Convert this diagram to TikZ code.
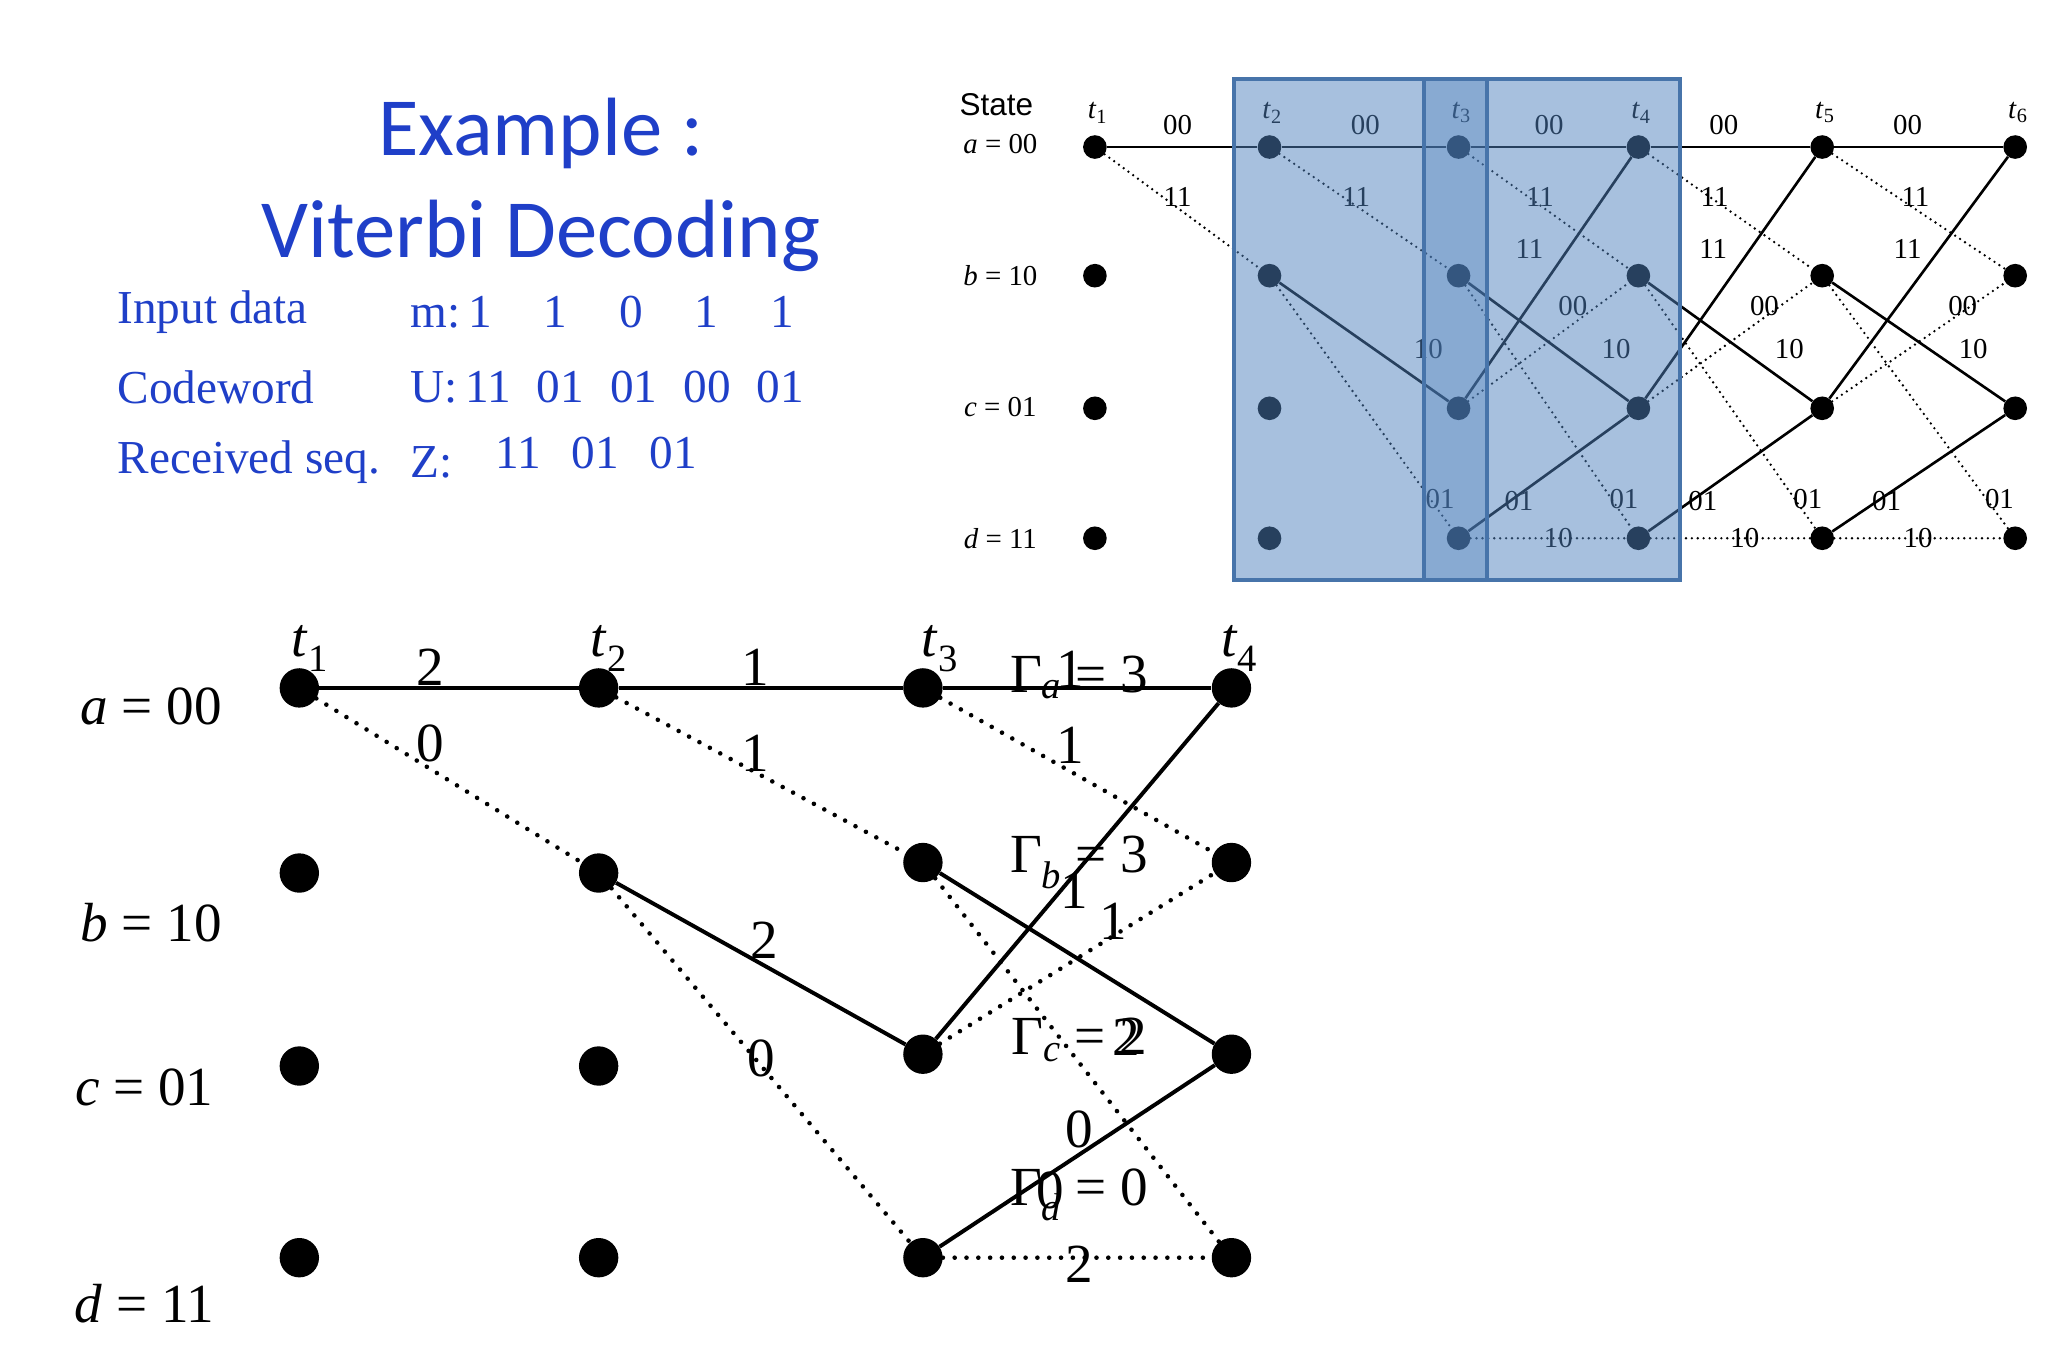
\documentclass[tikz,border=0pt]{standalone}
\usepackage{fontspec}
\setmainfont{Liberation Serif}
\newfontfamily\calib{Carlito}
\newfontfamily\dsans{Liberation Sans}
\newcommand{\sbi}[1]{\textsubscript{\itshape #1}}
\begin{document}
\begin{tikzpicture}[x=1pt,y=-1pt,
  dotB/.style={circle,fill=black,inner sep=0pt,minimum size=30pt},
  dotT/.style={circle,fill=black,inner sep=0pt,minimum size=18pt},
  solB/.style={line width=3pt},
  dotlB/.style={line width=3.5pt,line cap=round,dash pattern=on 0pt off 9pt},
  solT/.style={line width=2pt},
  dotlT/.style={line width=2pt,line cap=round,dash pattern=on 0pt off 4.5pt},
  lbB/.style={font=\fontsize{42}{46}\selectfont},
  lbT/.style={font=\fontsize{22}{24}\selectfont},
  bluetxt/.style={font=\fontsize{36}{40}\selectfont,anchor=west}]
\useasboundingbox (0,0) rectangle (1560,1040);
% ---------- title ----------
\definecolor{ttl}{HTML}{1F3FC8}
\node[text=ttl,font=\calib\fontsize{63}{66}\selectfont] (t1l) at (412,102) {Example :};
\node[text=ttl,font=\calib\fontsize{63}{66}\selectfont] (t2l) at (412,180) {Viterbi Decoding};
\node[bluetxt,text=ttl] (r1a) at (86,238) {Input data};
\node[bluetxt,text=ttl] (r1b) at (309,238) {m:\,1\hspace{1.1em}1\hspace{1.1em}0\hspace{1.1em}1\hspace{1.1em}1};
\node[bluetxt,text=ttl] (r2a) at (86,295) {Codeword};
\node[bluetxt,text=ttl] (r2b) at (309,295) {U:\,11\hspace{0.55em}01\hspace{0.55em}01\hspace{0.55em}00\hspace{0.55em}01};
\node[bluetxt,text=ttl] (r3a) at (86,352) {Received seq.};
\node[bluetxt,text=ttl] (r3b) at (309,352) {Z:};
\node[bluetxt,text=ttl] (r3c) at (374,345) {11\hspace{0.65em}01\hspace{0.65em}01};
% ---------- top-right trellis ----------
\foreach \n/\x in {1/834,2/967,3/1111,4/1248,5/1388,6/1535}{
  \node[dotT] (Ta\n) at (\x,112) {};
  \node[dotT] (Tb\n) at (\x,210) {};
  \node[dotT] (Tc\n) at (\x,311) {};
  \node[dotT] (Td\n) at (\x,410) {};
  \node[lbT] (Tt\n) at (\x+2,86) {\textit{t}\textsubscript{\n}};
}
\node[font=\dsans\fontsize{24}{26}\selectfont] (Tst) at (759,80) {State};
\node[lbT] (Tsa) at (762,110) {\textit{a} = 00};
\node[lbT] (Tsb) at (762,210) {\textit{b} = 10};
\node[lbT] (Tsc) at (762,310) {\textit{c} = 01};
\node[lbT] (Tsd) at (762,410) {\textit{d} = 11};
\draw[solT] (Ta1)--(Ta2); \draw[dotlT] (Ta1)--(Tb2);
\draw[solT] (Ta2)--(Ta3); \draw[dotlT] (Ta2)--(Tb3);
\draw[solT] (Tb2)--(Tc3); \draw[dotlT] (Tb2)--(Td3);
\foreach \i/\j in {3/4,4/5,5/6}{
  \draw[solT] (Ta\i)--(Ta\j); \draw[dotlT] (Ta\i)--(Tb\j);
  \draw[solT] (Tb\i)--(Tc\j); \draw[dotlT] (Tb\i)--(Td\j);
  \draw[solT] (Tc\i)--(Ta\j); \draw[dotlT] (Tc\i)--(Tb\j);
  \draw[solT] (Td\i)--(Tc\j); \draw[dotlT] (Td\i)--(Td\j);
}
\foreach \x in {897,1040,1180,1313,1453}{\node[lbT] at (\x,95) {00};}
\foreach \x in {897,1033,1173,1306,1459}{\node[lbT] at (\x,150) {11};}
\foreach \x in {1165,1305,1453}{\node[lbT] at (\x,190) {11};}
\foreach \x in {1198,1344,1495}{\node[lbT] at (\x,233) {00};}
\foreach \x in {1088,1231,1363,1503}{\node[lbT] at (\x,266) {10};}
\foreach \x in {1097,1237,1377,1523}{\node[lbT] at (\x,380) {01};}
\foreach \x in {1157,1297,1437}{\node[lbT] at (\x,382) {01};}
\foreach \x in {1187,1329,1461}{\node[lbT] at (\x,410) {10};}
% overlay
\definecolor{ovl}{HTML}{4F81BD}
\fill[ovl,opacity=0.5] (940,60) rectangle (1280,442);
\fill[ovl,opacity=0.35] (1085,60) rectangle (1133,442);
\draw[ovl!90!black,line width=3pt] (940,60) rectangle (1280,442);
\draw[ovl!90!black,line width=3pt] (1085,60) -- (1085,442) (1133,60) -- (1133,442);
% ---------- bottom trellis ----------
\foreach \n/\x/\yb/\yc in {1/228/665/812,2/456/665/812,3/703/657/803,4/938/657/803}{
  \node[dotB] (a\n) at (\x,524) {};
  \node[dotB] (b\n) at (\x,\yb) {};
  \node[dotB] (c\n) at (\x,\yc) {};
  \node[dotB] (d\n) at (\x,958) {};
}
\node[lbB] (tt1) at (236,494) {\textit{t}\textsubscript{1}};
\node[lbB] (tt2) at (464,494) {\textit{t}\textsubscript{2}};
\node[lbB] (tt3) at (716,494) {\textit{t}\textsubscript{3}};
\node[lbB] (tt4) at (944,494) {\textit{t}\textsubscript{4}};
\node[lbB] (sa) at (115,538) {\textit{a} = 00};
\node[lbB] (sb) at (115,703) {\textit{b} = 10};
\node[lbB] (sc) at (110,828) {\textit{c} = 01};
\node[lbB] (sd) at (110,993) {\textit{d} = 11};
\draw[solB] (a1)--(a2); \draw[dotlB] (a1)--(b2);
\draw[solB] (a2)--(a3); \draw[dotlB] (a2)--(b3);
\draw[solB] (b2)--(c3); \draw[dotlB] (b2)--(d3);
\draw[solB] (a3)--(a4); \draw[dotlB] (a3)--(b4);
\draw[solB] (b3)--(c4); \draw[dotlB] (b3)--(d4);
\draw[solB] (c3)--(a4); \draw[dotlB] (c3)--(b4);
\draw[solB] (d3)--(c4); \draw[dotlB] (d3)--(d4);
\node[lbB] at (328,508) {2};
\node[lbB] at (328,566) {0};
\node[lbB] at (575,508) {1};
\node[lbB] at (575,574) {1};
\node[lbB] at (582,716) {2};
\node[lbB] at (580,806) {0};
\node[lbB] at (815,510) {1};
\node[lbB] at (815,568) {1};
\node[lbB] at (818,678) {1};
\node[lbB] at (848,702) {1};
\node[lbB] at (858,790) {2};
\node[lbB] at (822,860) {0};
\node[lbB] at (800,907) {0};
\node[lbB] at (822,963) {2};
\node[lbB] at (822,516) {Γ\sbi{a} = 3};
\node[lbB] at (822,657) {Γ\sbi{b} = 3};
\node[lbB] at (822,792) {Γ\sbi{c} = 2};
\node[lbB] at (822,910) {Γ\sbi{d} = 0};
\end{tikzpicture}
\end{document}
